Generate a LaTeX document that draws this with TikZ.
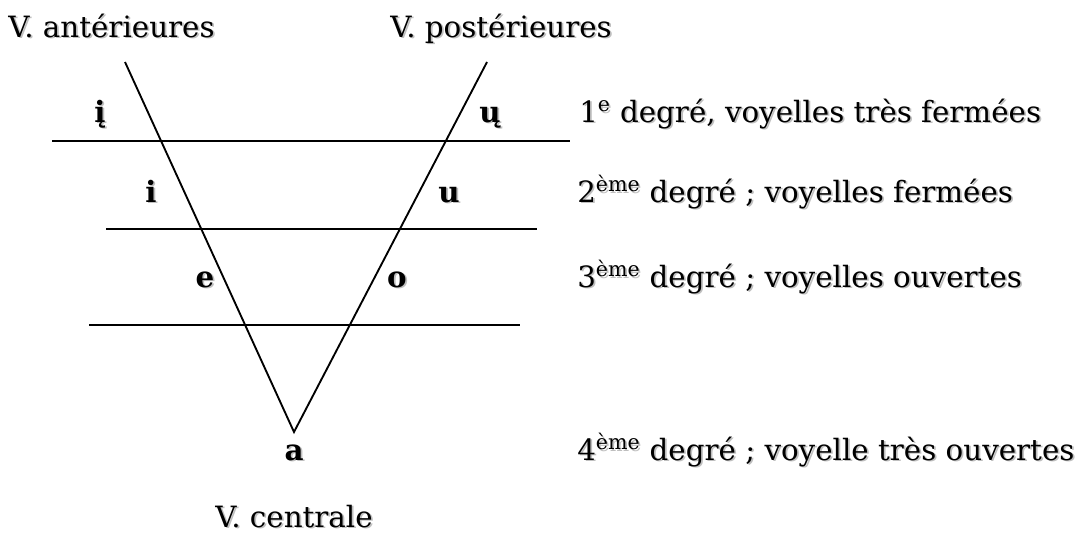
\documentclass[tikz,border=0pt]{standalone}
\usepackage{fontspec}
\setmainfont{DejaVu Serif}
\newcommand\shd[1]{\leavevmode\rlap{\kern0.06em\raisebox{-0.06em}{\color{black!25}#1}}#1}
\tikzset{
  lbl/.style={inner sep=0pt, font=\fontsize{22}{26}\selectfont},
  vow/.style={inner sep=0pt, font=\fontsize{22}{26}\selectfont\bfseries},
  ln/.style={line width=1.4pt}
}
\begin{document}
\begin{tikzpicture}[x=0.75pt,y=-0.75pt]
\useasboundingbox (0,0) rectangle (1084,536);
% diagonals
\coordinate (lt) at (125,62);
\coordinate (rt) at (487,62);
\coordinate (v) at (294,432);
\draw[ln] (lt) -- (v) -- (rt);
% horizontals
\coordinate (h1a) at (52,141); \coordinate (h1b) at (570,141);
\coordinate (h2a) at (106,229); \coordinate (h2b) at (537,229);
\coordinate (h3a) at (89,325); \coordinate (h3b) at (520,325);
\draw[ln] (h1a) -- (h1b);
\draw[ln] (h2a) -- (h2b);
\draw[ln] (h3a) -- (h3b);
% top labels
\node[lbl, anchor=base west] (ant) at (8,37) {\shd{V. antérieures}};
\node[lbl, anchor=base west] (post) at (390,37) {\shd{V. postérieures}};
\node[lbl, anchor=base west] (cent) at (215,527) {\shd{V. centrale}};
% vowels
\node[vow, anchor=base] (ii) at (100,122) {\shd{į}};
\node[vow, anchor=base] (uu) at (490,122) {\shd{ų}};
\node[vow, anchor=base] (i) at (151,202) {\shd{i}};
\node[vow, anchor=base] (u) at (449,202) {\shd{u}};
\node[vow, anchor=base] (e) at (205,287) {\shd{e}};
\node[vow, anchor=base] (o) at (397,287) {\shd{o}};
\node[vow, anchor=base] (a) at (294,460) {\shd{a}};
% right labels
\node[lbl, anchor=base west] (d1) at (579,122) {\shd{1\textsuperscript{e}} \shd{degré, voyelles très fermées}};
\node[lbl, anchor=base west] (d2) at (577,202) {\shd{2\textsuperscript{ème}} \shd{degré ; voyelles fermées}};
\node[lbl, anchor=base west] (d3) at (577,287) {\shd{3\textsuperscript{ème}} \shd{degré ; voyelles ouvertes}};
\node[lbl, anchor=base west] (d4) at (577,460) {\shd{4\textsuperscript{ème}} \shd{degré ; voyelle très ouvertes}};
\end{tikzpicture}
\end{document}
